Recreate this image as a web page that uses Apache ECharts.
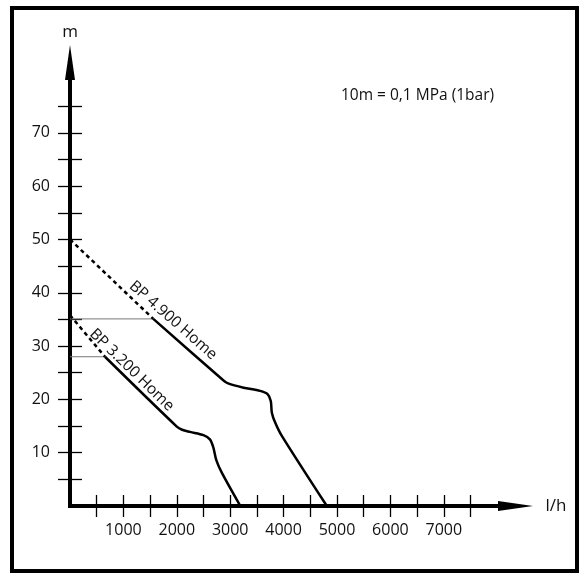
<!DOCTYPE html>
<html>
<head>
<meta charset="utf-8">
<script src="https://cdn.jsdelivr.net/npm/echarts@6/dist/echarts.min.js"></script>
<style>
  html, body { margin: 0; padding: 0; background: #fff; }
  #chart { width: 586px; height: 587px; }
</style>
</head>
<body>
<div id="chart"></div>
<script>
// Pumpenkennlinien: Förderhöhe (m) über Fördermenge (l/h)
const xTicks = [500, 1000, 1500, 2000, 2500, 3000, 3500, 4000, 4500, 5000, 5500, 6000, 6500, 7000, 7500];
const xLabels = [1000, 2000, 3000, 4000, 5000, 6000, 7000];
const yTicks = [5, 10, 15, 20, 25, 30, 35, 40, 45, 50, 55, 60, 65, 70, 75];
const yLabels = [10, 20, 30, 40, 50, 60, 70];

// BP 4.900 Home
const bp4900Dashed = [[0, 50], [1560, 35.1]];
const bp4900 = [[1560, 35.1], [2870, 23.6], [2960, 23.0], [3250, 22.2], [3560, 21.6], [3700, 21.0],
  [3760, 19.7], [3780, 17.5], [3840, 15.7], [3964, 13.2], [4810, 0]];
const bp4900Ref = [[0, 35.1], [1560, 35.1]];

// BP 3.200 Home
const bp3200Dashed = [[0, 35.8], [655, 28]];
const bp3200 = [[655, 28], [2000, 14.9], [2100, 14.3], [2250, 13.9], [2500, 13.3], [2620, 12.5],
  [2684, 11.0], [2740, 8.6], [2840, 6.3], [3190, 0]];
const bp3200Ref = [[0, 28], [655, 28]];

// Strecken, an denen die Kurvenbeschriftung ausgerichtet wird
const label4900Along = [[783, 41.9], [2783, 24.36]];
const label3200Along = [[39, 34.0], [2039, 14.6]];

const X_MAX = 8343;
const Y_MAX = 83.2;
const FONT = '"Open Sans", "Noto Sans", sans-serif';
const INK = '#111';
const ARROW = 'path://M5,0 L10,35 L0,35 Z';

const chart = echarts.init(document.getElementById('chart'));

const curveLabel = (text, along, distance) => ({
    symbol: 'none',
    silent: true,
    animation: false,
    lineStyle: { width: 0, color: 'rgba(0,0,0,0)' },
    label: {
        show: true,
        position: 'insideMiddleTop',
        formatter: text,
        distance: distance,
        color: INK,
        fontFamily: FONT,
        fontSize: 15.5
    },
    data: [[{ coord: along[0] }, { coord: along[1] }]]
});

const plain = (v) => String(v);

const mainX = {
    type: 'value',
    position: 'bottom',
    min: 0,
    max: X_MAX,
    splitLine: { show: false },
    axisLine: {
        show: true,
        onZero: false,
        symbol: ['none', ARROW],
        symbolSize: [10, 35],
        lineStyle: { color: '#000', width: 4, cap: 'square' }
    },
    axisTick: { show: true, customValues: xTicks, length: 11, lineStyle: { color: '#000', width: 1.3 } },
    axisLabel: { show: true, customValues: xLabels, formatter: plain, margin: 16, color: INK, fontFamily: FONT, fontSize: 16 },
    name: 'l/h',
    nameLocation: 'end',
    nameGap: 30,
    nameTextStyle: { color: INK, fontFamily: FONT, fontSize: 17, align: 'left', verticalAlign: 'middle' }
};

const innerX = {
    type: 'value',
    position: 'bottom',
    min: 0,
    max: X_MAX,
    splitLine: { show: false },
    axisLine: { show: false, onZero: false },
    axisTick: { show: true, inside: true, customValues: xTicks, length: 11, lineStyle: { color: '#000', width: 1.3 } },
    axisLabel: { show: false }
};

const mainY = {
    type: 'value',
    position: 'left',
    min: 0,
    max: Y_MAX,
    splitLine: { show: false },
    axisLine: {
        show: true,
        onZero: false,
        symbol: ['none', ARROW],
        symbolSize: [11, 35],
        lineStyle: { color: '#000', width: 4, cap: 'square' }
    },
    axisTick: { show: true, customValues: yTicks, length: 12, lineStyle: { color: '#000', width: 1.3 } },
    axisLabel: { show: true, customValues: yLabels, formatter: plain, margin: 20, color: INK, fontFamily: FONT, fontSize: 16 },
    name: 'm',
    nameLocation: 'end',
    nameGap: 22,
    nameTextStyle: { color: INK, fontFamily: FONT, fontSize: 17 }
};

const innerY = {
    type: 'value',
    position: 'left',
    min: 0,
    max: Y_MAX,
    splitLine: { show: false },
    axisLine: { show: false, onZero: false },
    axisTick: { show: true, inside: true, customValues: yTicks, length: 12, lineStyle: { color: '#000', width: 1.3 } },
    axisLabel: { show: false }
};

const lineSeries = (data, style, extra) => Object.assign({
    type: 'line',
    data: data,
    showSymbol: false,
    symbol: 'none',
    silent: true,
    animation: false,
    lineStyle: style
}, extra || {});

const options = {
    backgroundColor: '#fff',
    animation: false,
    grid: { left: 70, right: 70.5, top: 62.5, bottom: 81, containLabel: false, outerBoundsMode: 'none' },
    xAxis: [mainX, innerX],
    yAxis: [mainY, innerY],
    graphic: [
        {//Rahmen
            type: 'rect',
            shape: { x: 12, y: 8, width: 565, height: 563 },
            style: { fill: 'none', stroke: '#000', lineWidth: 4 },
            silent: true
        },
        {
            type: 'text',
            left: 341,
            top: 88,
            style: { text: '10m = 0,1 MPa (1bar)', fill: INK, font: '15.5px ' + FONT },
            silent: true
        }
    ],
    series: [
        lineSeries(bp4900Ref, { color: '#777', width: 1 }),
        lineSeries(bp3200Ref, { color: '#777', width: 1 }),
        lineSeries(bp4900Dashed, { color: '#000', width: 2.5, type: [4, 3.5] }),
        lineSeries(bp3200Dashed, { color: '#000', width: 2.5, type: [4, 3.5] }),
        lineSeries(bp4900, { color: '#000', width: 2.5 }, { smooth: 0.3, markLine: curveLabel('BP 4.900 Home', label4900Along, 4) }),
        lineSeries(bp3200, { color: '#000', width: 2.5 }, { smooth: 0.3, markLine: curveLabel('BP 3.200 Home', label3200Along, 1) })
    ]
};

chart.setOption(options);
</script>
</body>
</html>
